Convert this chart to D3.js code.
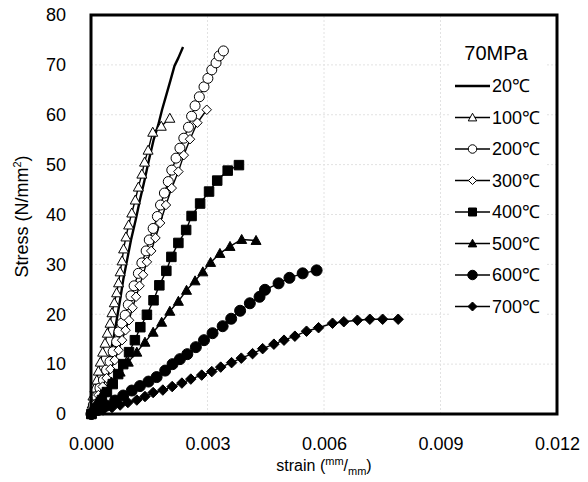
<!DOCTYPE html>
<html>
<head>
<meta charset="utf-8">
<script src="https://cdn.jsdelivr.net/npm/d3@7"></script>
<style>
  body { margin: 0; background: #fff; }
  svg { display: block; font-family: "Liberation Sans", Arial, sans-serif; }
</style>
</head>
<body>
<svg id="chart" width="588" height="482"></svg>
<script>
// stress-strain curves at 70MPa, [strain, stress] pairs
const c20 = [[0,0],[0.00006,0.8],[0.00019,3.5],[0.00032,6.8],[0.00045,10.8],[0.00057,14.8],[0.00066,18.8],
  [0.00075,22.9],[0.00083,26.9],[0.00093,30.9],[0.00103,34.9],[0.00115,38.9],[0.00126,42.9],[0.00138,46.9],
  [0.00149,50.9],[0.00161,54.9],[0.00173,57.9],[0.00183,61.0],[0.00194,64.0],[0.00205,67.0],[0.00215,69.8],
  [0.00225,71.4],[0.00237,73.6]];
const c100 = [[0.00001,0],[0.00003,2.0],[0.00005,3.6],[0.00010,5.2],[0.00015,6.8],[0.00019,8.6],[0.00024,10.4],
  [0.00030,12.4],[0.00036,14.2],[0.00042,16.2],[0.00049,18.2],[0.00054,20.3],[0.00060,22.3],[0.00066,24.3],
  [0.00071,26.3],[0.00075,28.5],[0.00080,30.7],[0.00084,33.1],[0.00090,35.5],[0.00097,37.9],[0.00105,40.3],
  [0.00114,42.9],[0.00122,45.5],[0.00131,48.1],[0.00138,50.5],[0.00147,52.9],[0.00159,56.5],[0.00181,57.7],
  [0.00203,59.3]];
const c200 = [[0.00001,0],[0.00006,1.8],[0.00015,3.5],[0.00023,5.2],[0.00032,6.8],[0.00040,8.8],[0.00049,10.5],
  [0.00057,12.5],[0.00066,14.5],[0.00072,16.5],[0.00080,18.2],[0.00088,19.8],[0.00096,21.9],[0.00103,23.7],
  [0.00111,25.7],[0.00122,28.2],[0.00131,30.3],[0.00142,32.7],[0.00150,34.9],[0.00160,37.2],[0.00171,39.6],
  [0.00179,41.9],[0.00189,44.3],[0.00199,46.6],[0.00208,48.9],[0.00219,51.3],[0.00229,53.3],[0.00239,55.3],
  [0.00251,57.5],[0.00259,59.7],[0.00268,61.8],[0.00279,63.6],[0.00291,65.6],[0.00301,67.3],[0.00311,69.0],
  [0.00322,70.4],[0.00330,71.8],[0.00341,72.8]];
const c300 = [[0.00001,0],[0.00010,2.0],[0.00019,3.8],[0.00030,5.5],[0.00040,7.2],[0.00050,9.0],[0.00061,10.8],
  [0.00071,12.8],[0.00080,14.8],[0.00089,16.8],[0.00098,18.8],[0.00107,21.3],[0.00116,23.5],[0.00125,25.7],
  [0.00134,27.9],[0.00144,30.5],[0.00155,32.7],[0.00166,35.3],[0.00178,38.3],[0.00193,41.9],[0.00208,45.3],
  [0.00225,48.6],[0.00239,51.9],[0.00255,55.1],[0.00274,58.4],[0.00298,61.0]];
const c400 = [[0.00001,0],[0.00015,1.1],[0.00028,2.8],[0.00041,4.4],[0.00056,6.0],[0.00070,8.0],[0.00083,10.0],
  [0.00098,12.4],[0.00113,14.8],[0.00127,17.4],[0.00144,19.9],[0.00161,22.8],[0.00176,25.8],[0.00194,28.7],
  [0.00207,31.5],[0.00225,34.3],[0.00245,36.9],[0.00259,39.7],[0.00281,42.2],[0.00304,44.6],[0.00325,46.8],
  [0.00352,48.8],[0.00381,49.9]];
const c500 = [[0.00001,0],[0.00015,2.4],[0.00032,4.4],[0.00053,6.4],[0.00075,8.4],[0.00096,10.4],[0.00118,12.4],
  [0.00139,14.4],[0.00160,16.4],[0.00182,18.4],[0.00203,20.6],[0.00225,22.6],[0.00246,24.8],[0.00268,26.7],
  [0.00288,28.5],[0.00308,30.4],[0.00332,32.2],[0.00358,33.6],[0.00388,35.0],[0.00425,34.8]];
const c600 = [[0.00001,0],[0.00018,0.8],[0.00040,1.7],[0.00062,2.7],[0.00083,3.7],[0.00105,4.7],[0.00126,5.6],
  [0.00148,6.5],[0.00169,7.4],[0.00191,8.7],[0.00210,10.0],[0.00229,11.0],[0.00248,12.0],[0.00270,13.4],
  [0.00291,14.8],[0.00313,16.2],[0.00339,17.6],[0.00361,19.1],[0.00384,20.7],[0.00409,22.2],[0.00434,23.5],
  [0.00448,24.9],[0.00483,26.2],[0.00511,27.3],[0.00545,28.2],[0.00581,28.8]];
const c700 = [[0.00002,0],[0.00031,0.8],[0.00054,1.3],[0.00075,1.8],[0.00095,2.3],[0.00118,2.8],[0.00139,3.5],
  [0.00160,4.3],[0.00185,4.8],[0.00209,5.5],[0.00234,6.2],[0.00257,7.0],[0.00285,7.8],[0.00311,8.5],
  [0.00334,9.4],[0.00362,10.3],[0.00387,11.2],[0.00416,12.1],[0.00442,13.1],[0.00471,14.0],[0.00497,14.8],
  [0.00525,15.6],[0.00555,16.6],[0.00586,17.3],[0.00622,18.2],[0.00651,18.5],[0.00686,18.8],[0.00718,19.0],
  [0.00751,19.0],[0.00791,19.0]];

const labels = ["20℃", "100℃", "200℃", "300℃", "400℃", "500℃", "600℃", "700℃"];
const markers = ["none", "triangle", "circle", "diamond", "square", "triangle", "circle", "diamond"];
const filled = [true, false, false, false, true, true, true, true];
const xTicks = [0, 0.003, 0.006, 0.009, 0.012];
const yTicks = [0, 10, 20, 30, 40, 50, 60, 70, 80];

const series = [c20, c100, c200, c300, c400, c500, c600, c700].map((pts, i) => ({
  label: labels[i], marker: markers[i], filled: filled[i], pts
}));

const svg = d3.select("#chart");
const x = d3.scaleLinear().domain([0, 0.012]).range([91, 557]);
const y = d3.scaleLinear().domain([0, 80]).range([414, 15]);

// gridlines
const grid = svg.append("g").attr("stroke", "#e2e2e2").attr("stroke-width", 1).attr("stroke-dasharray", "2,2");
grid.selectAll("line.h").data(yTicks.slice(1, -1)).join("line")
  .attr("x1", x(0)).attr("x2", x(0.012)).attr("y1", (d) => y(d)).attr("y2", (d) => y(d));
grid.selectAll("line.v").data(xTicks.slice(1, -1)).join("line")
  .attr("y1", y(0)).attr("y2", y(80)).attr("x1", (d) => x(d)).attr("x2", (d) => x(d));

function markerPath(type, s) {
  const h = s / 2;
  if (type === "circle") return d3.symbol(d3.symbolCircle, Math.PI * h * h)();
  if (type === "square") return `M${-h},${-h}H${h}V${h}H${-h}Z`;
  if (type === "diamond") return `M0,${-h}L${h},0L0,${h}L${-h},0Z`;
  if (type === "triangle") return `M0,${-h}L${h},${h * 0.8}L${-h},${h * 0.8}Z`;
  return null;
}
function markerSize(d) {
  if (d.marker === "circle") return d.filled ? 11 : 10;
  if (d.marker === "diamond") return d.filled ? 10.5 : 9.5;
  if (d.marker === "square") return 9.5;
  return 10;
}

const line = d3.line().x((p) => x(p[0])).y((p) => y(p[1]));

series.forEach((s) => {
  const g = svg.append("g");
  g.append("path").attr("d", line(s.pts)).attr("fill", "none").attr("stroke", "#000")
    .attr("stroke-width", s.marker === "none" ? 2.4 : 1.4).attr("stroke-linejoin", "round");
  if (s.marker !== "none") {
    g.selectAll("path.m").data(s.pts).join("path").attr("class", "m")
      .attr("transform", (p) => `translate(${x(p[0])},${y(p[1])})`)
      .attr("d", markerPath(s.marker, markerSize(s)))
      .attr("fill", s.filled ? "#000" : "#fff").attr("stroke", "#000").attr("stroke-width", 1);
  }
});

// axes labels
const yAxis = d3.axisLeft(y).tickValues(yTicks).tickSize(0).tickPadding(25).tickFormat(d3.format("d"));
const ya = svg.append("g").attr("transform", `translate(${x(0)},0)`).call(yAxis);
const xAxis = d3.axisBottom(x).tickValues(xTicks).tickSize(0).tickPadding(23).tickFormat(d3.format(".3f"));
const xa = svg.append("g").attr("transform", `translate(0,${y(0)})`).call(xAxis);
[ya, xa].forEach((a) => {
  a.select(".domain").remove();
  a.selectAll("text").attr("font-size", 18).attr("fill", "#000").attr("font-family", "Liberation Sans, Arial, sans-serif");
});

// legend
svg.append("rect").attr("x", 449).attr("y", 26).attr("width", 98).attr("height", 312).attr("fill", "#fff");
svg.append("text").attr("x", 496).attr("y", 53).attr("dy", "0.35em").attr("text-anchor", "middle")
  .attr("font-size", 20).text("70MPa");
const rowY = d3.scaleLinear().domain([0, 7]).range([86, 306.5]);
const leg = svg.append("g").selectAll("g").data(series).join("g")
  .attr("transform", (d, i) => `translate(0,${rowY(i)})`);
leg.append("line").attr("x1", 455).attr("x2", 490).attr("stroke", "#000")
  .attr("stroke-width", (d) => (d.marker === "none" ? 2.4 : 1.4));
leg.filter((d) => d.marker !== "none").append("path")
  .attr("transform", "translate(472.5,0)")
  .attr("d", (d) => markerPath(d.marker, markerSize(d) - 1.5))
  .attr("fill", (d) => (d.filled ? "#000" : "#fff")).attr("stroke", "#000");
leg.append("text").attr("x", 492).attr("dy", "0.35em").attr("font-size", 18).text((d) => d.label);

// frame
svg.append("rect").attr("x", x(0)).attr("y", y(80)).attr("width", x(0.012) - x(0)).attr("height", y(0) - y(80))
  .attr("fill", "none").attr("stroke", "#000").attr("stroke-width", 3);

// axis titles
const yt = svg.append("text").attr("transform", `translate(22,${(y(0) + y(80)) / 2 + 2}) rotate(-90)`)
  .attr("text-anchor", "middle").attr("dy", "0.35em").attr("font-size", 18);
yt.append("tspan").text("Stress (N/mm");
yt.append("tspan").attr("font-size", 11).attr("dy", -7).text("2");
yt.append("tspan").attr("dy", 7).text(")");

const xt = svg.append("text").attr("x", (x(0) + x(0.012)) / 2).attr("y", 471)
  .attr("text-anchor", "middle").attr("font-size", 16);
xt.append("tspan").text("strain (");
xt.append("tspan").attr("font-size", 11).attr("dy", -6).text("mm");
xt.append("tspan").attr("dy", 6).text("/");
xt.append("tspan").attr("font-size", 11).attr("dy", 4).text("mm");
xt.append("tspan").attr("dy", -4).text(")");
</script>
</body>
</html>
